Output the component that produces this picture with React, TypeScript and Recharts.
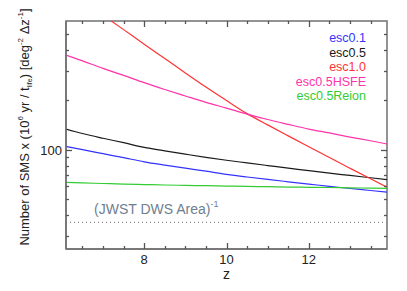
import { Line, LineChart, ReferenceArea, ReferenceLine, XAxis, YAxis } from "recharts";

// redshift grid
const zValues = [6.1, 6.5, 7, 7.5, 8, 8.5, 9, 9.5, 10, 10.5, 11, 11.5, 12, 12.5, 13, 13.5, 13.9];

const esc01 = [104.5, 99.8, 94.4, 89.3, 84.3, 80.5, 77.1, 74.0, 70.8, 68.2, 65.9, 63.8, 61.8, 59.8, 58.1, 56.5, 55.2];
const esc05 = [133, 125, 117, 110, 103, 98.2, 93.8, 89.7, 86.1, 83.0, 80.0, 77.1, 74.5, 71.9, 69.7, 67.5, 65.8];
const esc10 = [933, 794, 650, 532, 434, 356, 291, 239, 198, 165, 141, 121, 104, 89.5, 77.1, 66.5, 59.2];
const esc05Hsfe = [373, 344, 310, 281, 254, 231, 211, 193, 178, 164, 152, 142, 133, 126, 119, 113, 108];
const esc05Reion = [63.3, 62.8, 62.3, 61.8, 61.4, 61.0, 60.7, 60.4, 60.1, 59.8, 59.6, 59.3, 59.1, 58.9, 58.6, 58.4, 58.2];

const dwsArea = 36.2;

const zDomain = [6.1, 13.9];
const yDomain = [25, 600];
const xTicks = [6.5, 7, 7.5, 8, 8.5, 9, 9.5, 10, 10.5, 11, 11.5, 12, 12.5, 13, 13.5];
const yTicks = [30, 40, 50, 60, 70, 80, 90, 100, 200, 300, 400, 500];

const series = [
  { key: "esc01", name: "esc0.1", color: "#3333ff" },
  { key: "esc05", name: "esc0.5", color: "#1a1a1a" },
  { key: "esc10", name: "esc1.0", color: "#ff3333" },
  { key: "esc05Hsfe", name: "esc0.5HSFE", color: "#ff33aa" },
  { key: "esc05Reion", name: "esc0.5Reion", color: "#33cc33" },
];

const data = zValues.map((z, i) => ({
  z,
  esc01: esc01[i],
  esc05: esc05[i],
  esc10: esc10[i],
  esc05Hsfe: esc05Hsfe[i],
  esc05Reion: esc05Reion[i],
}));

const axisColor = "#707070";
const tickColor = "#555";
const font = "'Liberation Sans', Arial, Helvetica, sans-serif";

const isMajorX = (v: number) => v % 2 === 0;
const isMajorY = (v: number) => v === 100;
const px = (v: number) => Math.round(v) + 0.5;

// ticks point into the plot, with the same marks mirrored on the top and right sides
function BottomTick(props: any) {
  const { x, y, payload } = props;
  const major = isMajorX(payload.value);
  const len = major ? 6 : 3;
  return (
    <g>
      <path d={`M${px(x)},${y}v${-len}`} stroke={tickColor} strokeWidth={1.3} fill="none" />
      <path d={`M${px(x)},21v${len}`} stroke={tickColor} strokeWidth={1.3} fill="none" />
      {major && (
        <text x={x} y={y + 15} textAnchor="middle" fontSize={13} fill="#222" fontFamily={font}>
          {payload.value}
        </text>
      )}
    </g>
  );
}

function LeftTick(props: any) {
  const { x, y, payload } = props;
  const major = isMajorY(payload.value);
  const len = major ? 6 : 3;
  return (
    <g>
      <path d={`M${x},${px(y)}h${len}`} stroke={tickColor} strokeWidth={1.3} fill="none" />
      <path d={`M387,${px(y)}h${-len}`} stroke={tickColor} strokeWidth={1.3} fill="none" />
      {major && (
        <text x={x - 4} y={y + 5} textAnchor="end" fontSize={13} fill="#222" fontFamily={font}>
          {payload.value}
        </text>
      )}
    </g>
  );
}

const renderYLabel = () => (
  <text transform="translate(29, 127) rotate(-90)" textAnchor="middle" fontSize={13} fill="#222" fontFamily={font}>
    <tspan>Number of SMS x (10</tspan>
    <tspan fontSize={8} dy={-6}>6</tspan>
    <tspan dy={6}> yr / t</tspan>
    <tspan fontSize={7} dy={3}>life</tspan>
    <tspan dy={-3}>) [deg</tspan>
    <tspan fontSize={8} dy={-6}>-2</tspan>
    <tspan dy={6}> Δz</tspan>
    <tspan fontSize={8} dy={-6}>-1</tspan>
    <tspan dy={6}>]</tspan>
  </text>
);

const renderDwsLabel = (props: any) => {
  const { viewBox } = props;
  return (
    <text x={viewBox.x + 28} y={viewBox.y - 8} fontSize={14} fill="#6f7f90" fontFamily={font}>
      <tspan>(JWST DWS Area)</tspan>
      <tspan fontSize={9} dy={-7}>-1</tspan>
    </text>
  );
};

export default function App() {
  return (
    <div style={{ position: "absolute", left: 0, top: 0, width: 407, height: 291, background: "#fff" }}>
      <LineChart width={407} height={291} data={data} margin={{ top: 21, right: 20, bottom: 0, left: 16 }}>
        <XAxis
          dataKey="z"
          type="number"
          domain={zDomain}
          allowDataOverflow
          ticks={xTicks}
          interval={0}
          height={42}
          stroke={axisColor}
          strokeWidth={1.5}
          tickLine={false}
          tickSize={0}
          tickMargin={0}
          tick={BottomTick}
          label={{ value: "z", position: "insideBottom", offset: 12, fontSize: 14, fill: "#222", fontFamily: font }}
        />
        <YAxis
          scale="log"
          type="number"
          domain={yDomain}
          allowDataOverflow
          ticks={yTicks}
          interval={0}
          width={50}
          stroke={axisColor}
          strokeWidth={1.5}
          tickLine={false}
          tickSize={0}
          tickMargin={0}
          tick={LeftTick}
          label={{ content: renderYLabel }}
        />
        <ReferenceArea
          x1={zDomain[0]}
          x2={zDomain[1]}
          y1={yDomain[0]}
          y2={yDomain[1]}
          fill="none"
          stroke={axisColor}
          strokeWidth={1.5}
        />
        <ReferenceLine
          y={dwsArea}
          stroke="#888"
          strokeDasharray="1 3"
          strokeWidth={1.2}
          label={{ content: renderDwsLabel }}
        />
        {series.map((s) => (
          <Line
            key={s.key}
            dataKey={s.key}
            name={s.name}
            type="monotone"
            stroke={s.color}
            strokeWidth={1.2}
            dot={false}
            isAnimationActive={false}
          />
        ))}
      </LineChart>
      <div
        style={{
          position: "absolute",
          top: 31,
          right: 41,
          textAlign: "right",
          fontFamily: font,
          fontSize: 12.5,
          lineHeight: "14.6px",
        }}
      >
        {series.map((s) => (
          <div key={s.key} style={{ color: s.color }}>
            {s.name}
          </div>
        ))}
      </div>
    </div>
  );
}
